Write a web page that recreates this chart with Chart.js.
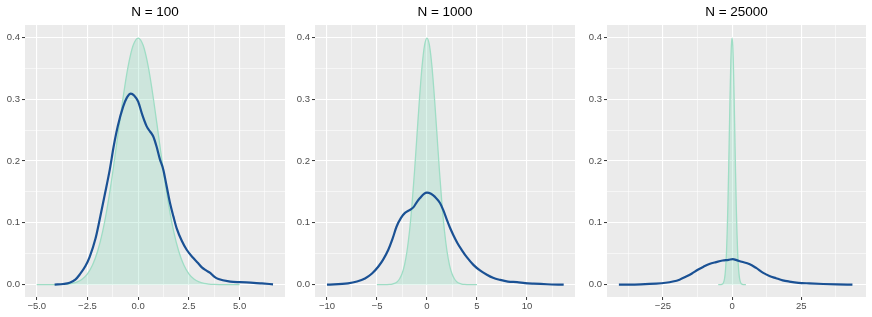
<!DOCTYPE html>
<html>
<head>
<meta charset="utf-8">
<script src="https://cdn.jsdelivr.net/npm/chart.js@4"></script>
<style>
body{margin:0;background:#fff;width:872px;height:317px;position:relative;overflow:hidden}
canvas{position:absolute;top:0}
</style>
</head>
<body>
<canvas id="c1" width="290" height="317" style="left:0px"></canvas>
<canvas id="c2" width="290" height="317" style="left:290px"></canvas>
<canvas id="c3" width="292" height="317" style="left:580px"></canvas>
<script>
// reference normal density (green), same in every panel
const normX = [-5,-4.75,-4.5,-4.25,-4,-3.75,-3.5,-3.25,-3,-2.75,-2.5,-2.25,-2,-1.75,-1.5,-1.25,-1,-0.75,-0.5,-0.25,0,
  0.25,0.5,0.75,1,1.25,1.5,1.75,2,2.25,2.5,2.75,3,3.25,3.5,3.75,4,4.25,4.5,4.75,5];
const normY = [0,0,0,0,0.0001,0.0004,0.0009,0.002,0.0044,0.0091,0.0175,0.0317,0.054,0.0863,0.1295,0.1826,0.242,0.3011,0.3521,0.3867,0.3989,
  0.3867,0.3521,0.3011,0.242,0.1826,0.1295,0.0863,0.054,0.0317,0.0175,0.0091,0.0044,0.002,0.0009,0.0004,0.0001,0,0,0,0];

// N = 100
const x100 = [-4.12,-3.7,-3.38,-3.1,-2.89,-2.6,-2.39,-2.1,-1.9,-1.65,-1.4,-1.2,-1.0,-0.74,-0.55,-0.36,-0.2,0,0.2,0.42,0.58,0.74,0.91,1.07,1.24,1.4,1.57,1.74,1.9,2.15,2.4,2.72,2.95,3.14,3.35,3.55,3.75,3.96,4.54,5.03,5.69,6.1,6.65];
const y100 = [0,0.001,0.003,0.008,0.016,0.03,0.045,0.075,0.105,0.145,0.186,0.225,0.257,0.288,0.303,0.309,0.306,0.296,0.275,0.256,0.248,0.24,0.223,0.203,0.186,0.16,0.132,0.11,0.091,0.071,0.056,0.043,0.035,0.028,0.023,0.019,0.013,0.009,0.005,0.004,0.003,0.002,0.0005];

// N = 1000
const x1000 = [-10,-7.9,-7,-6.2,-5.5,-4.88,-4.4,-3.88,-3.45,-3.04,-2.6,-2.2,-1.8,-1.37,-1.0,-0.7,-0.3,0,0.4,0.8,1.3,1.64,1.98,2.3,2.64,3.05,3.48,4.0,4.64,5.3,5.99,6.6,7.32,8.1,9.0,9.8,10.66,12,13.67];
const y1000 = [0,0.002,0.005,0.01,0.018,0.029,0.04,0.056,0.074,0.094,0.108,0.116,0.12,0.125,0.134,0.14,0.147,0.149,0.147,0.142,0.132,0.12,0.105,0.092,0.08,0.067,0.056,0.044,0.032,0.023,0.016,0.011,0.0076,0.005,0.004,0.0025,0.0016,0.0006,0];

// N = 25000
const x25000 = [-40.9,-33,-27.4,-24,-21.4,-19,-16.6,-14.5,-12.4,-10.3,-8.2,-5.8,-3.4,-1.3,0.3,1.4,3.5,6.2,8.7,11.1,13.5,15.9,18.3,20.7,24,27.9,33,38,43.5];
const y25000 = [0,0.0005,0.0016,0.003,0.005,0.008,0.013,0.018,0.024,0.029,0.0335,0.0365,0.039,0.04,0.0413,0.04,0.037,0.0335,0.027,0.0195,0.014,0.0104,0.007,0.005,0.003,0.002,0.001,0.0004,0];

// axis breaks
const yMajor = [0,0.1,0.2,0.3,0.4];
const yMinor = [0.05,0.15,0.25,0.35];
const xMajor1 = [-5,-2.5,0,2.5,5], xLabels1 = ["\u22125.0","\u22122.5","0.0","2.5","5.0"], xMinor1 = [-3.75,-1.25,1.25,3.75,6.25];
const xMajor2 = [-10,-5,0,5,10], xLabels2 = ["\u221210","\u22125","0","5","10"], xMinor2 = [-7.5,-2.5,2.5,7.5,12.5];
const xMajor3 = [-25,0,25], xLabels3 = ["\u221225","0","25"], xMinor3 = [-37.5,-12.5,12.5,37.5];

const panelBg = {
  id: 'panelBg',
  beforeDraw(chart){
    const a = chart.chartArea, c = chart.ctx;
    c.save();
    c.fillStyle = '#EBEBEB';
    c.fillRect(a.left, a.top, a.right - a.left, a.bottom - a.top);
    c.restore();
  }
};

function pts(xs, ys){
  return xs.map((x, i) => ({x: x, y: ys[i]}));
}

function gridOpts(majors){
  return {
    color: '#FFFFFF',
    lineWidth: ctx => majors.includes(ctx.tick.value) ? 1.1 : 0.55,
    tickColor: ctx => majors.includes(ctx.tick.value) ? '#333333' : 'rgba(0,0,0,0)',
    tickWidth: 1,
    tickLength: 3,
    drawTicks: true
  };
}

function makePanel(id, title, xmin, xmax, xMajor, xLabels, xMinor, bx, by, yw, rightPad){
  new Chart(document.getElementById(id), {
    type: 'scatter',
    data: {
      datasets: [
        {
          data: pts(bx, by),
          showLine: true,
          borderColor: '#1A5194',
          borderWidth: 2.2,
          pointRadius: 0,
          cubicInterpolationMode: 'monotone',
          fill: false,
          order: 0
        },
        {
          data: pts(normX, normY),
          showLine: true,
          borderColor: '#9FDDC5',
          borderWidth: 1.3,
          backgroundColor: 'rgba(110,210,170,0.24)',
          pointRadius: 0,
          cubicInterpolationMode: 'monotone',
          fill: 'origin',
          order: 1
        }
      ]
    },
    options: {
      responsive: false,
      animation: false,
      devicePixelRatio: 1,
      layout: {padding: {left: 0, right: rightPad, top: 0, bottom: 0}},
      plugins: {
        legend: {display: false},
        tooltip: {enabled: false},
        title: {
          display: true,
          text: title,
          fullSize: false,
          color: '#000000',
          font: {family: 'Liberation Sans', size: 13.5, weight: 'normal'},
          padding: {top: 4, bottom: 4.8}
        }
      },
      scales: {
        x: {
          type: 'linear',
          min: xmin,
          max: xmax,
          border: {display: false},
          grid: gridOpts(xMajor),
          afterBuildTicks: s => {
            s.ticks = xMajor.concat(xMinor).sort((a, b) => a - b).map(v => ({value: v}));
          },
          afterFit: s => {
            s.height = 20;
            s.paddingLeft = 0; s.paddingRight = 0;
          },
          ticks: {
            autoSkip: false,
            maxRotation: 0,
            padding: 1,
            color: '#4D4D4D',
            font: {family: 'Liberation Sans', size: 9.5},
            callback: v => {
              const i = xMajor.indexOf(v);
              return i >= 0 ? xLabels[i] : '';
            }
          }
        },
        y: {
          type: 'linear',
          min: -0.02,
          max: 0.42,
          border: {display: false},
          grid: gridOpts(yMajor),
          afterBuildTicks: s => {
            s.ticks = yMajor.concat(yMinor).sort((a, b) => a - b).map(v => ({value: v}));
          },
          afterFit: s => {
            s.width = yw;
            s.paddingTop = 0; s.paddingBottom = 0;
          },
          ticks: {
            autoSkip: false,
            padding: 2,
            color: '#4D4D4D',
            font: {family: 'Liberation Sans', size: 9.5},
            callback: v => yMajor.includes(v) ? v.toFixed(1) : ''
          }
        }
      }
    },
    plugins: [panelBg]
  });
}

makePanel('c1', 'N = 100', -5.58, 7.24, xMajor1, xLabels1, xMinor1, x100, y100, 25, 5);
makePanel('c2', 'N = 1000', -11.2, 14.8, xMajor2, xLabels2, xMinor2, x1000, y1000, 25, 5);
makePanel('c3', 'N = 25000', -45.2, 48.4, xMajor3, xLabels3, xMinor3, x25000, y25000, 27, 6);
</script>
</body>
</html>
